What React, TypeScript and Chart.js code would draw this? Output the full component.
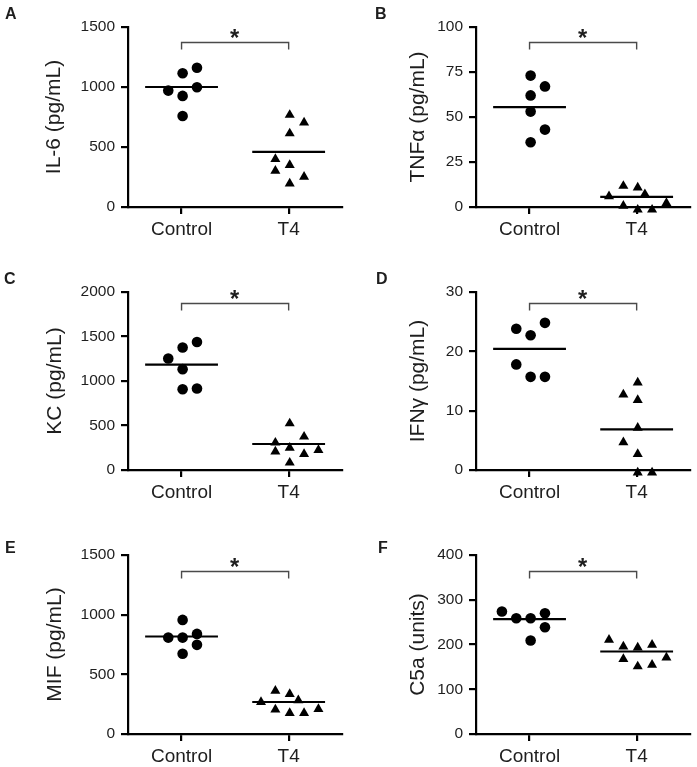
import React, { useEffect, useRef } from "react";
import { Chart, registerables } from "chart.js";

Chart.register(...registerables);

// ---------- data ----------
const categories = ["Control", "T4"];

// A: IL-6 (pg/mL)
const il6Control = [970, 1115, 1160, 998, 926, 758];
const il6ControlCols = [-1, 0, 1, 1, 0, 0];
const il6T4 = [767, 703, 613, 399, 349, 301, 251, 195];
const il6T4Cols = [0, 1, 0, -1, 0, -1, 1, 0];
const il6Means = [1000, 460];
const il6Bracket = 1375;
const il6Ticks = [0, 1500, 500];

// B: TNFα (pg/mL)
const tnfControl = [73, 67, 62, 53, 43, 36];
const tnfControlCols = [0, 1, 0, 0, 1, 0];
const tnfT4 = [5.9, 11.7, 10.8, 7.1, 0.6, -1.5, -1.5, 2.2];
const tnfT4Cols = [-2, -1, 0, 0.5, -1, 0, 1, 2];
const tnfMeans = [55.5, 5.6];
const tnfBracket = 91.6;
const tnfTicks = [0, 100, 25];

// C: KC (pg/mL)
const kcControl = [1252, 1376, 1439, 1133, 908, 916];
const kcControlCols = [-1, 0, 1, 0, 0, 1];
const kcT4 = [307, 523, 374, 206, 250, 179, 224, 82];
const kcT4Cols = [-1, 0, 1, -1, 0, 1, 2, 0];
const kcMeans = [1185, 292];
const kcBracket = 1880;
const kcTicks = [0, 2000, 500];

// D: IFNγ (pg/mL)
const ifnControl = [23.8, 22.7, 24.8, 17.8, 15.7, 15.7];
const ifnControlCols = [-1, 0, 1, -1, 0, 1];
const ifnT4 = [12.7, 14.75, 11.8, 4.65, 7.1, 2.7, -0.45, -0.45];
const ifnT4Cols = [-1, 0, 0, -1, 0, 0, 0, 1];
const ifnMeans = [20.4, 6.85];
const ifnBracket = 28.2;
const ifnTicks = [0, 30, 10];

// E: MIF (pg/mL)
const mifControl = [956, 808, 808, 839, 747, 672];
const mifControlCols = [0, -1, 0, 1, 1, 0];
const mifT4 = [268, 362, 335, 282, 204, 176, 176, 209];
const mifT4Cols = [-2, -1, 0, 0.6, -1, 0, 1, 2];
const mifMeans = [817, 268];
const mifBracket = 1369;
const mifTicks = [0, 1500, 500];

// F: C5a (units)
const c5aControl = [273.6, 258.7, 258.7, 269.9, 238.7, 208.9];
const c5aControlCols = [-2, -1, 0, 1, 1, 0];
const c5aT4 = [210.4, 195.5, 193.3, 199.3, 167.3, 150.9, 154.6, 171];
const c5aT4Cols = [-2, -1, 0, 1, -1, 0, 1, 2];
const c5aMeans = [256.5, 184.4];
const c5aBracket = 365;
const c5aTicks = [0, 400, 100];

// ---------- layout / style ----------
const FONT = 'Arial, "Liberation Sans", Helvetica, sans-serif';
const TEXT = "#1e1e1e";
const AXIS = "#000";
const JIT_OFF = 0.01;
const JIT_STEP = 0.134;
const MEAN_HALF = 0.34;

type Panel = {
  letter: string;
  title: string;
  left: number;
  top: number;
  height: number;
  areaTop: number;
  areaBottom: number;
  ticks: number[];
  control: number[];
  controlCols: number[];
  t4: number[];
  t4Cols: number[];
  means: number[];
  bracket: number;
  titlePad: number;
  letterX: number;
  letterY: number;
};

const panels: Panel[] = [
  { letter: "A", title: "IL-6 (pg/mL)", left: 0, top: 0, height: 250, areaTop: 27, areaBottom: 207, ticks: il6Ticks, control: il6Control, controlCols: il6ControlCols, t4: il6T4, t4Cols: il6T4Cols, means: il6Means, bracket: il6Bracket, titlePad: 41.4, letterX: 5, letterY: 19.3 },
  { letter: "B", title: "TNFα (pg/mL)", left: 348, top: 0, height: 250, areaTop: 27, areaBottom: 207, ticks: tnfTicks, control: tnfControl, controlCols: tnfControlCols, t4: tnfT4, t4Cols: tnfT4Cols, means: tnfMeans, bracket: tnfBracket, titlePad: 57.4, letterX: 27, letterY: 19.3 },
  { letter: "C", title: "KC (pg/mL)", left: 0, top: 250, height: 250, areaTop: 42, areaBottom: 220, ticks: kcTicks, control: kcControl, controlCols: kcControlCols, t4: kcT4, t4Cols: kcT4Cols, means: kcMeans, bracket: kcBracket, titlePad: 42.4, letterX: 4, letterY: 34 },
  { letter: "D", title: "IFNγ (pg/mL)", left: 348, top: 250, height: 250, areaTop: 42, areaBottom: 220, ticks: ifnTicks, control: ifnControl, controlCols: ifnControlCols, t4: ifnT4, t4Cols: ifnT4Cols, means: ifnMeans, bracket: ifnBracket, titlePad: 57.4, letterX: 28, letterY: 34 },
  { letter: "E", title: "MIF (pg/mL)", left: 0, top: 500, height: 267, areaTop: 55, areaBottom: 234, ticks: mifTicks, control: mifControl, controlCols: mifControlCols, t4: mifT4, t4Cols: mifT4Cols, means: mifMeans, bracket: mifBracket, titlePad: 42.4, letterX: 5, letterY: 53 },
  { letter: "F", title: "C5a (units)", left: 348, top: 500, height: 267, areaTop: 55, areaBottom: 234, ticks: c5aTicks, control: c5aControl, controlCols: c5aControlCols, t4: c5aT4, t4Cols: c5aT4Cols, means: c5aMeans, bracket: c5aBracket, titlePad: 57.4, letterX: 30, letterY: 53 },
];

const PANEL_W = 348;
const Y_AXIS_W = 128;
const STAR_INK_H = 9;
const STAR_GAP = 9;

function makeOverlay(p: Panel) {
  return {
    id: "overlay" + p.letter,
    afterDatasetsDraw(chart: any) {
      const { ctx } = chart;
      const x = chart.scales.x;
      const y = chart.scales.y;
      const x1 = x.getPixelForValue(1);
      const x2 = x.getPixelForValue(2);
      const yb = Math.round(y.getPixelForValue(p.bracket)) + 0.5;
      ctx.save();
      ctx.strokeStyle = "#4a4a4a";
      ctx.lineWidth = 1.4;
      ctx.beginPath();
      ctx.moveTo(x1, yb + 7);
      ctx.lineTo(x1, yb);
      ctx.lineTo(x2, yb);
      ctx.lineTo(x2, yb + 7);
      ctx.stroke();
      // star sized and centered by its ink box
      ctx.font = `bold 100px ${FONT}`;
      const m100 = ctx.measureText("*");
      const h100 = m100.actualBoundingBoxAscent + m100.actualBoundingBoxDescent;
      const size = (STAR_INK_H / (h100 || 30)) * 100;
      ctx.font = `bold ${size}px ${FONT}`;
      const m = ctx.measureText("*");
      const cx = (x1 + x2) / 2;
      const cy = yb - STAR_GAP;
      const baseline = cy + (m.actualBoundingBoxAscent - m.actualBoundingBoxDescent) / 2;
      const inkCx = (m.actualBoundingBoxRight - m.actualBoundingBoxLeft) / 2;
      ctx.fillStyle = TEXT;
      ctx.textAlign = "left";
      ctx.textBaseline = "alphabetic";
      ctx.fillText("*", cx - inkCx, baseline);
      ctx.font = `bold 16px ${FONT}`;
      ctx.fillText(p.letter, p.letterX, p.letterY);
      ctx.restore();
    },
  };
}

function PanelChart({ p }: { p: Panel }) {
  const ref = useRef<HTMLCanvasElement | null>(null);
  useEffect(() => {
    if (!ref.current) return;
    const ctrlPts = p.control.map((v, i) => ({ x: 1 + JIT_OFF + JIT_STEP * p.controlCols[i], y: v }));
    const t4Pts = p.t4.map((v, i) => ({ x: 2 + JIT_OFF + JIT_STEP * p.t4Cols[i], y: v }));
    const meanLine = (g: number, m: number) => [
      { x: g - MEAN_HALF, y: m },
      { x: g + MEAN_HALF, y: m },
    ];
    const xHeight = p.height - p.areaBottom;
    const chart = new Chart(ref.current, {
      type: "scatter",
      data: {
        datasets: [
          { data: meanLine(1, p.means[0]), showLine: true, borderColor: "#000", borderWidth: 2.2, pointRadius: 0, clip: false } as any,
          { data: meanLine(2, p.means[1]), showLine: true, borderColor: "#000", borderWidth: 2.2, pointRadius: 0, clip: false } as any,
          { data: ctrlPts, pointStyle: "circle", pointRadius: 5.3, backgroundColor: "#000", borderWidth: 0, clip: false } as any,
          { data: t4Pts, pointStyle: "triangle", pointRadius: 5.8, backgroundColor: "#000", borderWidth: 0, clip: false } as any,
        ],
      },
      options: {
        animation: false,
        responsive: false,
        events: [],
        layout: { padding: { top: p.areaTop, right: 5, left: 0, bottom: 0 } },
        plugins: { legend: { display: false }, tooltip: { enabled: false } },
        scales: {
          x: {
            type: "linear",
            min: 0.5,
            max: 2.5,
            afterFit: (s: any) => { s.height = xHeight; },
            afterBuildTicks: (s: any) => { s.ticks = [{ value: 1 }, { value: 2 }]; },
            ticks: {
              autoSkip: false,
              maxRotation: 0,
              padding: 4,
              color: TEXT,
              font: { family: FONT, size: 19 },
              callback: (v: any) => categories[Number(v) - 1],
            },
            grid: { display: true, drawOnChartArea: false, drawTicks: true, tickLength: 7, color: AXIS, lineWidth: 2.2 },
            border: { display: true, color: AXIS, width: 2.2 },
          },
          y: {
            type: "linear",
            min: p.ticks[0],
            max: p.ticks[1],
            afterFit: (s: any) => { s.width = Y_AXIS_W; },
            ticks: {
              stepSize: p.ticks[2],
              padding: 6,
              color: TEXT,
              font: { family: FONT, size: 15.5 },
              callback: (v: any) => String(v),
            },
            grid: { display: true, drawOnChartArea: false, drawTicks: true, tickLength: 7, color: AXIS, lineWidth: 2.2 },
            border: { display: true, color: AXIS, width: 2.2 },
            title: {
              display: true,
              text: p.title,
              color: TEXT,
              font: { family: FONT, size: 21 },
              padding: { top: p.titlePad, bottom: 0 },
            },
          },
        },
      } as any,
      plugins: [makeOverlay(p)],
    });
    return () => chart.destroy();
  }, [p]);
  return (
    <canvas
      ref={ref}
      width={PANEL_W}
      height={p.height}
      style={{ position: "absolute", left: p.left, top: p.top, width: PANEL_W, height: p.height }}
    />
  );
}

export default function App() {
  return (
    <div style={{ position: "absolute", left: 0, top: 0, width: 697, height: 767, background: "#fff", overflow: "hidden" }}>
      {panels.map((p) => (
        <PanelChart key={p.letter} p={p} />
      ))}
    </div>
  );
}
